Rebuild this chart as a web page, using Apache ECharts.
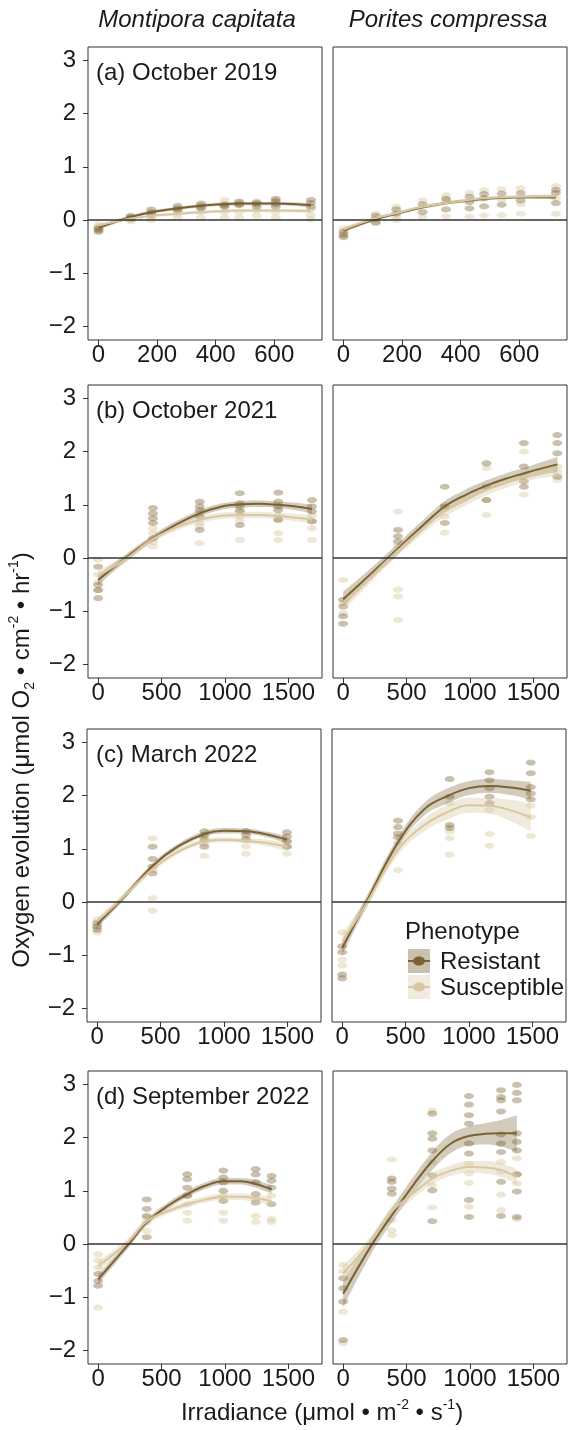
<!DOCTYPE html>
<html>
<head>
<meta charset="utf-8">
<script src="https://cdn.jsdelivr.net/npm/echarts@6/dist/echarts.min.js"></script>
<style>
html, body { margin: 0; padding: 0; background: #fff; }
#chart { width: 568px; height: 1430px; }
</style>
</head>
<body>
<div id="chart"></div>
<script>
// ---------- Irradiance levels (µmol m-2 s-1) ----------
const irrOct19 = [0, 110, 180, 270, 350, 430, 480, 540, 605, 725];

// ---------- (a) October 2019, Montipora capitata ----------
const mcOct19ResPts = [[-0.22, -0.18, -0.15], [0.05, 0.08, 0.03], [0.15, 0.2, 0.1], [0.27, 0.22, 0.18], [0.3, 0.25, 0.22], [0.3, 0.27, 0.25], [0.35, 0.3, 0.28], [0.33, 0.3, 0.25], [0.4, 0.35, 0.3, 0.25], [0.38, 0.32, 0.25]];
const mcOct19SusPts = [[-0.08, -0.12, -0.2], [0.0, 0.06, -0.02], [0.05, 0.12, 0.0], [0.12, 0.05, 0.2], [0.15, 0.05, 0.32], [0.38, 0.15, 0.05], [0.33, 0.15, 0.05], [0.35, 0.18, 0.08], [0.38, 0.15, 0.05], [0.2, 0.1, 0.02]];
const mcOct19FitX = [0, 110, 180, 270, 350, 430, 480, 540, 605, 725];
const mcOct19ResFit = [-0.14, 0.06, 0.15, 0.22, 0.27, 0.30, 0.31, 0.31, 0.31, 0.28];
const mcOct19ResSe = [0.04, 0.03, 0.03, 0.03, 0.03, 0.03, 0.03, 0.03, 0.03, 0.04];
const mcOct19SusFit = [-0.10, 0.03, 0.08, 0.12, 0.15, 0.17, 0.18, 0.18, 0.18, 0.17];
const mcOct19SusSe = [0.04, 0.03, 0.03, 0.03, 0.03, 0.03, 0.03, 0.03, 0.03, 0.04];

// ---------- (a) October 2019, Porites compressa ----------
const pcOct19ResPts = [[-0.22, -0.28, -0.32], [0.08, 0.02, -0.04], [0.2, 0.12], [0.3, 0.15], [0.4, 0.2], [0.44, 0.34, 0.22], [0.49, 0.41, 0.26], [0.5, 0.29], [0.51, 0.37], [0.57, 0.51, 0.32]];
const pcOct19SusPts = [[-0.16, -0.25], [0.12, -0.06], [0.25, 0.0, 0.05], [0.37, 0.06], [0.47, 0.37, 0.07], [0.51, 0.07], [0.56, 0.09], [0.58, 0.39, 0.09], [0.6, 0.3, 0.12], [0.64, 0.42, 0.12]];
const pcOct19FitX = [0, 110, 180, 270, 350, 430, 480, 540, 605, 725];
const pcOct19ResFit = [-0.19, 0.02, 0.12, 0.24, 0.32, 0.37, 0.40, 0.42, 0.43, 0.43];
const pcOct19ResSe = [0.04, 0.03, 0.03, 0.03, 0.03, 0.03, 0.03, 0.03, 0.03, 0.04];
const pcOct19SusFit = [-0.17, 0.04, 0.13, 0.25, 0.32, 0.38, 0.41, 0.43, 0.44, 0.45];
const pcOct19SusSe = [0.04, 0.03, 0.03, 0.03, 0.03, 0.03, 0.03, 0.03, 0.03, 0.04];

// ---------- (b) October 2021 ----------
const irrOct21Mc = [0, 432, 801, 1117, 1420, 1686];
const mcOct21ResPts = [[-0.5, -0.6, -0.75, -0.16], [0.94, 0.84, 0.75, 0.66, 0.37], [1.06, 0.97, 0.9, 0.78, 0.53], [1.22, 1.03, 0.97, 0.88, 0.62], [1.23, 1.06, 0.97, 0.9, 0.72], [1.09, 0.97, 0.88, 0.69]];
const mcOct21SusPts = [[-0.03, -0.31, -0.45, -0.6], [0.56, 0.47, 0.22, 0.3], [0.66, 0.85, 0.28, 0.6], [0.78, 0.9, 0.34, 0.7], [0.47, 0.34, 0.8, 0.72], [0.56, 0.34, 0.8, 0.7]];
const mcOct21FitX = [0, 215, 432, 620, 801, 960, 1117, 1270, 1420, 1560, 1686];
const mcOct21ResFit = [-0.41, 0.0, 0.375, 0.64, 0.84, 0.96, 1.01, 1.02, 1.0, 0.97, 0.92];
const mcOct21ResSe = [0.1, 0.07, 0.06, 0.06, 0.06, 0.06, 0.06, 0.06, 0.06, 0.07, 0.08];
const mcOct21SusFit = [-0.33, -0.02, 0.36, 0.58, 0.72, 0.79, 0.81, 0.81, 0.79, 0.76, 0.73];
const mcOct21SusSe = [0.1, 0.07, 0.06, 0.06, 0.06, 0.06, 0.06, 0.06, 0.06, 0.07, 0.08];

const irrOct21Pc = [0, 432, 801, 1130, 1425, 1689];
const pcOct21ResPts = [[-0.78, -0.91, -1.09, -1.23], [0.53, 0.41, 0.31], [1.34, 0.97, 0.66], [1.78, 1.34, 1.09], [2.16, 1.72, 1.44, 1.34], [2.31, 2.16, 1.97, 1.53]];
const pcOct21SusPts = [[-0.41, -0.84, -1.03], [0.875, 0.22, -0.59, -0.72, -1.16], [0.78, 0.48, 1.0], [1.69, 1.09, 0.81], [2.0, 1.53, 1.19], [1.72, 1.63, 1.47]];
const pcOct21FitX = [0, 180, 353, 600, 801, 960, 1130, 1280, 1425, 1560, 1689];
const pcOct21ResFit = [-0.77, -0.38, 0.0, 0.55, 0.97, 1.18, 1.36, 1.49, 1.59, 1.68, 1.76];
const pcOct21ResSe = [0.14, 0.11, 0.1, 0.1, 0.1, 0.1, 0.1, 0.1, 0.1, 0.12, 0.14];
const pcOct21SusFit = [-0.84, -0.44, -0.03, 0.5, 0.875, 1.08, 1.28, 1.41, 1.53, 1.62, 1.69];
const pcOct21SusSe = [0.15, 0.11, 0.1, 0.1, 0.1, 0.1, 0.1, 0.1, 0.1, 0.12, 0.15];

// ---------- (c) March 2022 ----------
const irrMar22Mc = [0, 437, 845, 1174, 1497];
const mcMar22ResPts = [[-0.39, -0.46, -0.52], [1.04, 0.81, 0.67, 0.54], [1.33, 1.26, 1.17, 1.04], [1.33, 1.26, 1.17], [1.31, 1.23, 1.14, 1.04]];
const mcMar22SusPts = [[-0.33, -0.57, -0.45], [1.2, 0.075, -0.16, 0.6], [1.1, 0.87, 1.2], [1.04, 0.91, 1.2], [0.91, 1.04, 1.15]];
const mcMar22FitX = [0, 174, 437, 640, 845, 1000, 1174, 1340, 1497];
const mcMar22ResFit = [-0.41, 0.0, 0.68, 1.05, 1.28, 1.34, 1.33, 1.27, 1.17];
const mcMar22ResSe = [0.07, 0.06, 0.05, 0.05, 0.05, 0.05, 0.05, 0.05, 0.07];
const mcMar22SusFit = [-0.36, 0.02, 0.62, 0.95, 1.14, 1.17, 1.15, 1.11, 1.04];
const mcMar22SusSe = [0.07, 0.06, 0.05, 0.05, 0.05, 0.05, 0.05, 0.06, 0.08];

const irrMar22Pc = [0, 440, 848, 1162, 1487];
const pcMar22ResPts = [[-0.83, -0.94, -1.36, -1.43], [1.53, 1.41, 1.29, 1.22], [2.31, 1.98, 1.45, 1.39], [2.44, 2.29, 2.14, 1.98, 1.86], [2.62, 2.42, 2.16, 2.04, 1.93]];
const pcMar22SusPts = [[-0.57, -1.08, -1.19], [1.11, 0.6], [1.86, 1.33, 1.2, 0.89], [1.73, 1.28, 1.06], [1.81, 1.24, 1.6]];
const pcMar22FitX = [0, 190, 440, 650, 848, 1000, 1162, 1330, 1487];
const pcMar22ResFit = [-0.86, 0.0, 1.12, 1.75, 2.01, 2.14, 2.18, 2.15, 2.09];
const pcMar22ResSe = [0.13, 0.1, 0.1, 0.12, 0.14, 0.13, 0.13, 0.14, 0.17];
const pcMar22SusFit = [-0.74, -0.03, 0.98, 1.45, 1.71, 1.82, 1.81, 1.72, 1.59];
const pcMar22SusSe = [0.15, 0.1, 0.1, 0.12, 0.14, 0.14, 0.15, 0.2, 0.26];

// ---------- (d) September 2022 ----------
const irrSep22Mc = [0, 383, 703, 987, 1242, 1367];
const mcSep22ResPts = [[-0.56, -0.69, -0.78], [0.84, 0.66, 0.53, 0.13], [1.31, 1.22, 1.06, 0.91], [1.38, 1.25, 1.16, 1.0, 0.81], [1.41, 1.31, 1.16, 0.94, 0.78], [1.28, 1.19, 1.06, 0.75]];
const mcSep22SusPts = [[-0.19, -0.31, -0.44, -1.19], [0.41, 0.25, 0.5], [0.75, 0.59, 0.44, 0.9], [0.59, 0.44, 0.9], [0.53, 0.42, 0.85], [0.91, 0.47, 0.42]];
const mcSep22FitX = [0, 240, 383, 550, 703, 850, 987, 1120, 1242, 1367];
const mcSep22ResFit = [-0.66, 0.0, 0.41, 0.72, 0.94, 1.1, 1.18, 1.18, 1.13, 1.03];
const mcSep22ResSe = [0.09, 0.07, 0.06, 0.06, 0.06, 0.06, 0.06, 0.06, 0.07, 0.08];
const mcSep22SusFit = [-0.41, 0.05, 0.43, 0.62, 0.75, 0.84, 0.89, 0.89, 0.86, 0.81];
const mcSep22SusSe = [0.09, 0.07, 0.06, 0.06, 0.06, 0.06, 0.06, 0.06, 0.07, 0.08];

const irrSep22Pc = [0, 383, 703, 992, 1245, 1370];
const pcSep22ResPts = [[-0.64, -0.83, -1.08, -1.8], [1.23, 1.17, 1.04, 0.95], [2.45, 2.08, 1.98, 1.76, 1.29, 1.01, 0.43], [2.78, 2.62, 2.42, 2.26, 1.89, 1.7, 0.83, 0.51], [2.89, 2.76, 2.7, 2.49, 2.06, 1.89, 1.73, 1.17, 0.53], [2.99, 2.84, 2.7, 2.08, 1.92, 1.76, 1.31, 0.99, 0.51]];
const pcSep22SusPts = [[-0.39, -0.51, -1.27, -1.86], [1.59, 0.45, 0.26, 0.17], [2.51, 1.54, 1.11, 0.69], [1.51, 1.33, 1.15, 0.7], [1.54, 1.36, 0.93, 0.64], [1.61, 1.31, 1.14, 0.47]];
const pcSep22FitX = [0, 229, 383, 550, 703, 850, 992, 1120, 1245, 1370];
const pcSep22ResFit = [-0.93, 0.0, 0.54, 1.1, 1.56, 1.89, 2.03, 2.07, 2.08, 2.08];
const pcSep22ResSe = [0.25, 0.15, 0.14, 0.15, 0.17, 0.18, 0.18, 0.2, 0.25, 0.34];
const pcSep22SusFit = [-0.55, 0.08, 0.61, 0.95, 1.23, 1.38, 1.45, 1.44, 1.39, 1.26];
const pcSep22SusSe = [0.15, 0.1, 0.1, 0.1, 0.1, 0.1, 0.11, 0.12, 0.13, 0.15];

// ---------- Axis ticks and labels ----------
const yTicks = [-2, -1, 0, 1, 2, 3];
const xTicksOct19 = [0, 200, 400, 600];
const xTicksLater = [0, 500, 1000, 1500];
const speciesNames = ['Montipora capitata', 'Porites compressa'];
const surveyLabels = ['(a) October 2019', '(b) October 2021', '(c) March 2022', '(d) September 2022'];
const phenotypes = ['Resistant', 'Susceptible'];

// ---------- Styling ----------
const FONT = '"Liberation Sans", Arial, Helvetica, sans-serif';
const TEXT = '#1a1a1a';
const FRAME = '#333333';
const RES = '#7a6234';
const SUS = '#d8c8a2';
const RES_PT = 'rgba(122, 98, 52, 0.5)';
const SUS_PT = 'rgba(216, 200, 162, 0.55)';
const RES_BAND = 'rgba(122, 98, 52, 0.33)';
const SUS_BAND = 'rgba(216, 200, 162, 0.38)';

const colLeft = [88, 333];
const colWidth = 234;
const rowTop = [47, 385, 729, 1071];
const rowHeight = 293;
const xRangeOct19 = [-36, 763];
const xRangeLater = [-80, 1765];
const yRange = [-2.25, 3.25];

const panels = [
  { row: 0, col: 0, lv: irrOct19, rp: mcOct19ResPts, sp: mcOct19SusPts, fx: mcOct19FitX, rf: mcOct19ResFit, rs: mcOct19ResSe, sf: mcOct19SusFit, ss: mcOct19SusSe },
  { row: 0, col: 1, lv: irrOct19, rp: pcOct19ResPts, sp: pcOct19SusPts, fx: pcOct19FitX, rf: pcOct19ResFit, rs: pcOct19ResSe, sf: pcOct19SusFit, ss: pcOct19SusSe },
  { row: 1, col: 0, lv: irrOct21Mc, rp: mcOct21ResPts, sp: mcOct21SusPts, fx: mcOct21FitX, rf: mcOct21ResFit, rs: mcOct21ResSe, sf: mcOct21SusFit, ss: mcOct21SusSe },
  { row: 1, col: 1, lv: irrOct21Pc, rp: pcOct21ResPts, sp: pcOct21SusPts, fx: pcOct21FitX, rf: pcOct21ResFit, rs: pcOct21ResSe, sf: pcOct21SusFit, ss: pcOct21SusSe },
  { row: 2, col: 0, lv: irrMar22Mc, rp: mcMar22ResPts, sp: mcMar22SusPts, fx: mcMar22FitX, rf: mcMar22ResFit, rs: mcMar22ResSe, sf: mcMar22SusFit, ss: mcMar22SusSe },
  { row: 2, col: 1, lv: irrMar22Pc, rp: pcMar22ResPts, sp: pcMar22SusPts, fx: pcMar22FitX, rf: pcMar22ResFit, rs: pcMar22ResSe, sf: pcMar22SusFit, ss: pcMar22SusSe },
  { row: 3, col: 0, lv: irrSep22Mc, rp: mcSep22ResPts, sp: mcSep22SusPts, fx: mcSep22FitX, rf: mcSep22ResFit, rs: mcSep22ResSe, sf: mcSep22SusFit, ss: mcSep22SusSe },
  { row: 3, col: 1, lv: irrSep22Pc, rp: pcSep22ResPts, sp: pcSep22SusPts, fx: pcSep22FitX, rf: pcSep22ResFit, rs: pcSep22ResSe, sf: pcSep22SusFit, ss: pcSep22SusSe }
];

const fmtY = v => (v < 0 ? '\u2212' + Math.abs(v) : String(v));
const fmtX = v => String(v);

const grids = [], xAxes = [], yAxes = [], series = [];

function pointsOf(levels, groups) {
  const out = [];
  levels.forEach((x, k) => (groups[k] || []).forEach(v => out.push([x, v])));
  return out;
}

// Confidence band: lower bound plus band width, stacked on y.
// Rows are stored as [y, x] so that the stacked dimension is the response.
function ribbon(i, fx, fit, se, color, tag) {
  const lower = fx.map((x, k) => [fit[k] - se[k], x]);
  const width = fx.map((x, k) => [2 * se[k], x]);
  const common = {
    type: 'line', xAxisIndex: i, yAxisIndex: i, stack: 'band' + tag + i,
    stackStrategy: 'all', smooth: 0.4, symbol: 'none', silent: true,
    encode: { x: 1, y: 0 },
    lineStyle: { width: 0, opacity: 0 }
  };
  series.push(Object.assign({}, common, { data: lower }));
  series.push(Object.assign({}, common, { data: width, areaStyle: { color: color, opacity: 1 } }));
}

function fitLine(i, fx, fit, color, extra) {
  series.push(Object.assign({
    type: 'line', xAxisIndex: i, yAxisIndex: i, silent: true, smooth: 0.4, symbol: 'none',
    lineStyle: { color: color, width: 2 }, data: fx.map((x, k) => [x, fit[k]])
  }, extra || {}));
}

panels.forEach((p, i) => {
  const later = p.row > 0;
  const xr = later ? xRangeLater : xRangeOct19;
  const xt = later ? xTicksLater : xTicksOct19;
  grids.push({
    left: p.row === 2 ? colLeft[p.col] - 1 : colLeft[p.col], top: rowTop[p.row], width: colWidth, height: rowHeight,
    show: true, borderColor: FRAME, borderWidth: 1, backgroundColor: 'transparent'
  });
  xAxes.push({
    type: 'value', gridIndex: i, min: xr[0], max: xr[1], position: 'bottom',
    splitLine: { show: false }, axisLine: { show: false, onZero: false },
    axisTick: { show: true, length: 5, lineStyle: { color: FRAME, width: 1 }, customValues: xt },
    axisLabel: { customValues: xt, formatter: fmtX, fontSize: 24, color: TEXT, fontFamily: FONT, margin: 3 }
  });
  yAxes.push({
    type: 'value', gridIndex: i, min: yRange[0], max: yRange[1], position: 'left',
    splitLine: { show: false }, axisLine: { show: false, onZero: false },
    axisTick: { show: p.col === 0, length: 5, lineStyle: { color: FRAME, width: 1 }, customValues: yTicks },
    axisLabel: { show: p.col === 0, customValues: yTicks, formatter: fmtY, fontSize: 24, color: TEXT, fontFamily: FONT, margin: 12 }
  });

  // raw measurements
  series.push({
    type: 'scatter', xAxisIndex: i, yAxisIndex: i, silent: true,
    symbol: 'circle', symbolSize: [10, 6],
    itemStyle: { color: SUS_PT }, data: pointsOf(p.lv, p.sp)
  });
  series.push({
    type: 'scatter', xAxisIndex: i, yAxisIndex: i, silent: true,
    symbol: 'circle', symbolSize: [10, 6],
    itemStyle: { color: RES_PT }, data: pointsOf(p.lv, p.rp)
  });

  // smoothed fits with confidence bands, one phenotype after the other
  ribbon(i, p.fx, p.rf, p.rs, RES_BAND, 'r');
  fitLine(i, p.fx, p.rf, RES);
  ribbon(i, p.fx, p.sf, p.ss, SUS_BAND, 's');
  fitLine(i, p.fx, p.sf, SUS, {
    markLine: {
      silent: true, symbol: 'none', label: { show: false },
      lineStyle: { color: FRAME, width: 1.5, type: 'solid' },
      data: [{ yAxis: 0 }]
    }
  });
});

const graphics = [];
// species headings
graphics.push({ type: 'text', x: 197, y: 20, style: { text: speciesNames[0], fontSize: 24, fontStyle: 'italic', fontFamily: FONT, fill: TEXT, align: 'center', verticalAlign: 'middle' } });
graphics.push({ type: 'text', x: 448, y: 20, style: { text: speciesNames[1], fontSize: 24, fontStyle: 'italic', fontFamily: FONT, fill: TEXT, align: 'center', verticalAlign: 'middle' } });
// survey labels
surveyLabels.forEach((t, r) => {
  graphics.push({ type: 'text', x: 96, y: rowTop[r] + 26, z: 10, style: { text: t, fontSize: 24, fontFamily: FONT, fill: TEXT, align: 'left', verticalAlign: 'middle' } });
});
// axis titles
const richScript = {
  sub: { fontSize: 14, fontFamily: FONT, fill: TEXT, verticalAlign: 'bottom', lineHeight: 30 },
  sup: { fontSize: 14, fontFamily: FONT, fill: TEXT, verticalAlign: 'top', lineHeight: 30 },
  n: { fontSize: 24, fontFamily: FONT, fill: TEXT, lineHeight: 30 }
};
graphics.push({
  type: 'text', x: 22, y: 760, rotation: Math.PI / 2,
  style: {
    text: '{n|Oxygen evolution (\u03bcmol O}{sub|2}{n| \u2022 cm}{sup|-2}{n| \u2022 hr}{sup|-1}{n|)}',
    rich: richScript, fontSize: 24, fontFamily: FONT, fill: TEXT, align: 'center', verticalAlign: 'middle'
  }
});
graphics.push({
  type: 'text', x: 322, y: 1413,
  style: {
    text: '{n|Irradiance (\u03bcmol \u2022 m}{sup|-2}{n| \u2022 s}{sup|-1}{n|)}',
    rich: richScript, fontSize: 24, fontFamily: FONT, fill: TEXT, align: 'center', verticalAlign: 'middle'
  }
});
// legend
graphics.push({ type: 'text', x: 405, y: 932, z: 10, style: { text: 'Phenotype', fontSize: 24, fontFamily: FONT, fill: TEXT, align: 'left', verticalAlign: 'middle' } });
[[phenotypes[0], 949, 'rgba(122, 98, 52, 0.4)', RES], [phenotypes[1], 975, 'rgba(216, 200, 162, 0.35)', SUS]].forEach(([name, y, band, col]) => {
  graphics.push({ type: 'rect', z: 10, shape: { x: 408, y: y, width: 22, height: 24 }, style: { fill: band } });
  graphics.push({ type: 'line', z: 11, shape: { x1: 408, y1: y + 12, x2: 430, y2: y + 12 }, style: { stroke: col, lineWidth: 2 } });
  graphics.push({ type: 'ellipse', z: 11, shape: { cx: 419, cy: y + 12, rx: 6, ry: 4.5 }, style: { fill: col } });
  graphics.push({ type: 'text', x: 440, y: y + 13, z: 10, style: { text: name, fontSize: 24, fontFamily: FONT, fill: TEXT, align: 'left', verticalAlign: 'middle' } });
});

const chart = echarts.init(document.getElementById('chart'));
chart.setOption({
  animation: false,
  backgroundColor: '#ffffff',
  grid: grids,
  xAxis: xAxes,
  yAxis: yAxes,
  series: series,
  graphic: graphics
});
</script>
</body>
</html>
